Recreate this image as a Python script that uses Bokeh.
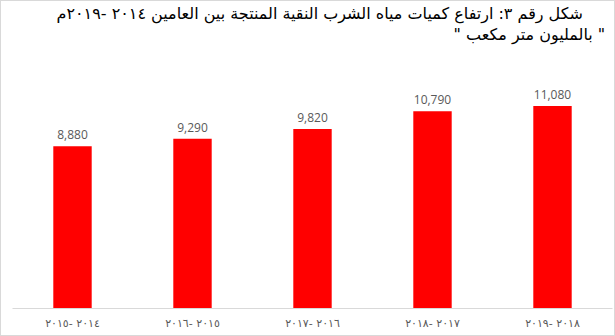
from bokeh.plotting import figure
from bokeh.models import ColumnDataSource, Title, Range1d
from bokeh.core.properties import value
from bokeh.embed import file_html
from bokeh.resources import INLINE

title_line1 = "شكل رقم ٣: ارتفاع كميات مياه الشرب النقية المنتجة بين العامين ٢٠١٤ -٢٠١٩م"
title_line2 = "\" بالمليون متر مكعب \""
categories = ["٢٠١٤ -٢٠١٥", "٢٠١٥ -٢٠١٦", "٢٠١٦ -٢٠١٧", "٢٠١٧ -٢٠١٨", "٢٠١٨ -٢٠١٩"]
values = [8880, 9290, 9820, 10790, 11080]
labels = [f"{v:,}" for v in values]

source = ColumnDataSource(dict(cat=categories, val=values, lab=labels))

p = figure(width=615, height=336, x_range=categories, y_range=Range1d(0, 14440),
           output_backend="svg", toolbar_location=None, y_axis_location=None,
           min_border_left=11, min_border_right=4, min_border_top=8, min_border_bottom=29)
p.title.visible = False
p.background_fill_color = "white"
p.border_fill_color = "white"
p.outline_line_color = None
p.xgrid.grid_line_color = None
p.ygrid.grid_line_color = None
p.styles = {"border": "1px solid #d9d9d9", "box-sizing": "border-box"}

t2 = Title(text=title_line2, align="left", offset=441, text_font="DejaVu Sans",
           text_font_size="16px", text_font_style="normal", text_color="#000000", standoff=1)
t1 = Title(text=title_line1, align="left", offset=44, text_font="DejaVu Sans",
           text_font_size="16px", text_font_style="normal", text_color="#000000", standoff=0)
p.add_layout(t2, "above")
p.add_layout(t1, "above")

p.vbar(x="cat", top="val", width=0.32, source=source, color="#ff0000", line_color=None)
p.text(x="cat", y="val", text="lab", source=source, y_offset=-7,
       text_align="center", text_baseline="bottom", text_font=value("Open Sans"),
       text_font_size="12px", text_color="#595959")

ax = p.xaxis[0]
ax.axis_line_color = "#d9d9d9"
ax.axis_line_width = 1
ax.major_tick_line_color = None
ax.minor_tick_line_color = None
ax.major_label_text_font = "DejaVu Sans"
ax.major_label_text_font_size = "11px"
ax.major_label_text_color = "#595959"
ax.major_label_standoff = 2

open("out.html", "w").write(file_html(p, INLINE))
